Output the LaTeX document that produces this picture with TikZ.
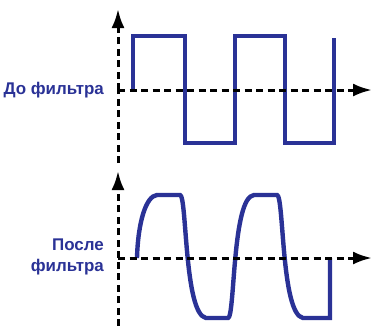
\documentclass[tikz,border=0pt]{standalone}
\usepackage{fontspec}
\setmainfont{Liberation Sans}
\usetikzlibrary{arrows.meta}
\definecolor{sigblue}{RGB}{42,50,150}
\begin{document}
\begin{tikzpicture}[x=1bp,y=-1bp,
  axis/.style={line width=3bp, dash pattern=on 7bp off 4.5bp, -{Latex[length=19bp,width=13bp]}},
  axisplain/.style={line width=3bp, dash pattern=on 7bp off 4.5bp},
  wave/.style={sigblue, line width=4.4bp, line join=miter},
  lbl/.style={text=sigblue, font=\bfseries\fontsize{17}{21}\selectfont, inner sep=0pt, align=right, anchor=east}]
\useasboundingbox (0,0) rectangle (373,326);
% top plot
\coordinate (o1) at (118,90);
\coordinate (ytop1) at (118,9);
\coordinate (ybot1) at (118,163);
\coordinate (xend1) at (372,90);
\draw[wave] (133,90) -- (133,36) -- (185,36) -- (185,143) -- (235,143) -- (235,36) -- (285,36) -- (285,143) -- (334,143) -- (334,38);
\draw[axisplain] (ybot1) -- (o1);
\draw[axis] (o1) -- (ytop1);
\draw[axis] (o1) -- (xend1);
\node[lbl] (l1) at (104,90) {До фильтра};
% bottom plot
\coordinate (o2) at (118,258);
\coordinate (ytop2) at (118,171);
\coordinate (ybot2) at (118,326);
\coordinate (xend2) at (372,258);
\draw[wave] (137,258) .. controls (138,222) and (146,196) .. (157,195) -- (180,195)
  .. controls (187,195) and (184,314) .. (206,318) -- (228,318)
  .. controls (235,318) and (232,197) .. (254,195) -- (277,195)
  .. controls (284,195) and (281,314) .. (303,318) -- (330,318) -- (330,258);
\draw[axisplain] (ybot2) -- (o2);
\draw[axis] (o2) -- (ytop2);
\draw[axis] (o2) -- (xend2);
\node[lbl] (l2) at (104,257) {После\\фильтра};
\end{tikzpicture}
\end{document}
